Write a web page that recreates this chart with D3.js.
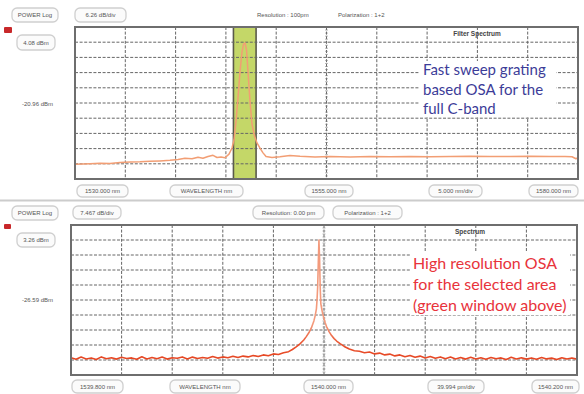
<!DOCTYPE html>
<html><head><meta charset="utf-8">
<script src="https://cdn.jsdelivr.net/npm/d3@7"></script>
<style>body{margin:0;background:#fff}svg{display:block}</style>
</head><body>
<svg id="c" width="584" height="394"></svg>
<script>
// ---------- DATA ----------
// Top panel: fast sweep grating OSA, full C-band  [wavelength nm, power dBm]
const topTrace = [
 [1530.00,-46.2],[1531.49,-46.0],[1532.49,-45.8],[1533.48,-45.9],[1534.47,-45.5],[1535.47,-45.25],
 [1536.46,-45.2],[1537.46,-45.0],[1538.45,-44.8],[1539.44,-44.55],[1540.24,-44.2],[1540.93,-43.7],
 [1541.63,-43.9],[1542.23,-43.3],[1542.72,-43.7],[1543.22,-43.0],[1543.72,-42.5],[1544.12,-43.4],
 [1544.51,-43.2],[1544.91,-43.5],[1545.31,-42.0],[1545.61,-39.5],[1545.80,-36.2],[1546.00,-28.8],
 [1546.20,-18.9],[1546.40,-8.2],[1546.60,0.0],[1546.75,3.3],[1546.90,3.75],[1547.05,0.9],
 [1547.20,-8.2],[1547.40,-20.5],[1547.59,-29.6],[1547.84,-34.5],[1548.09,-37.4],[1548.39,-39.5],
 [1548.69,-41.5],[1548.99,-43.0],[1549.58,-43.4],[1550.38,-43.1],[1551.37,-42.6],[1552.37,-42.9],
 [1553.86,-43.2],[1555.35,-43.0],[1557.34,-43.15],[1559.33,-43.0],[1561.31,-43.1],[1563.30,-42.95],
 [1565.29,-43.1],[1567.28,-43.0],[1569.26,-42.9],[1571.25,-43.0],[1573.24,-42.95],[1575.23,-42.85],
 [1577.22,-43.0],[1578.71,-42.95],[1579.40,-43.1],[1579.80,-43.9],[1580.00,-43.5]
];
const topWindow = [1545.75, 1548.0];          // selected (green) window, nm
const topXDomain = [1530, 1580];
const topRefLevel = 4.08, topDbPerDiv = 6.26;  // dBm, dB/div

// Bottom panel: high resolution OSA  [wavelength nm, power dBm]
const bottomTrace = [
 [1539.800,-55.3],[1539.804,-56.1],[1539.808,-55.0],[1539.812,-55.9],[1539.816,-55.4],[1539.820,-56.2],
 [1539.824,-54.9],[1539.828,-55.8],[1539.832,-55.3],[1539.836,-56.0],[1539.840,-55.1],[1539.844,-55.7],
 [1539.848,-55.4],[1539.852,-56.1],[1539.856,-54.8],[1539.860,-55.9],[1539.864,-55.2],[1539.868,-55.8],
 [1539.872,-55.0],[1539.876,-56.0],[1539.880,-55.3],[1539.884,-55.6],[1539.888,-54.9],[1539.892,-55.9],
 [1539.896,-55.0],[1539.900,-55.7],[1539.904,-55.2],[1539.908,-55.6],[1539.912,-54.7],[1539.916,-55.5],
 [1539.920,-54.9],[1539.924,-55.3],[1539.928,-54.6],[1539.932,-55.2],[1539.936,-54.5],[1539.940,-54.9],
 [1539.944,-54.2],[1539.948,-54.7],[1539.952,-53.9],[1539.956,-54.3],[1539.960,-53.4],[1539.964,-53.7],
 [1539.968,-52.8],[1539.972,-52.3],[1539.975,-51.2],[1539.978,-49.9],[1539.981,-48.4],[1539.984,-46.5],
 [1539.986,-44.8],[1539.988,-42.9],[1539.990,-40.5],[1539.992,-37.0],[1539.993,-34.5],[1539.994,-31.0],
 [1539.9945,-26.5],[1539.995,-20.0],[1539.9955,-8.0],[1539.996,3.2],[1539.9965,-6.0],[1539.997,-20.5],
 [1539.9975,-28.5],[1539.998,-30.2],[1539.9985,-32.0],[1539.999,-33.5],[1540.000,-35.8],[1540.001,-38.0],
 [1540.002,-39.8],[1540.004,-42.3],[1540.006,-44.3],[1540.008,-45.8],[1540.010,-47.0],[1540.013,-48.4],
 [1540.016,-49.7],[1540.020,-51.0],[1540.024,-51.8],[1540.028,-52.1],[1540.032,-52.8],[1540.036,-52.5],
 [1540.040,-53.4],[1540.044,-53.0],[1540.048,-53.9],[1540.052,-53.5],[1540.056,-54.4],[1540.060,-53.9],
 [1540.064,-54.8],[1540.068,-54.2],[1540.072,-55.1],[1540.076,-54.5],[1540.080,-55.4],[1540.084,-54.7],
 [1540.088,-55.6],[1540.092,-54.9],[1540.096,-55.8],[1540.100,-55.0],[1540.104,-55.9],[1540.108,-55.2],
 [1540.112,-56.0],[1540.116,-55.1],[1540.120,-55.9],[1540.124,-55.3],[1540.128,-56.1],[1540.132,-55.2],
 [1540.136,-55.8],[1540.140,-55.4],[1540.144,-56.2],[1540.148,-55.1],[1540.152,-55.9],[1540.156,-55.3],
 [1540.160,-56.0],[1540.164,-55.4],[1540.168,-56.1],[1540.172,-55.2],[1540.176,-55.9],[1540.180,-55.5],
 [1540.184,-56.2],[1540.188,-55.3],[1540.192,-55.9],[1540.196,-55.4],[1540.200,-56.0]
];
const bottomXDomain = [1539.8, 1540.2];
const bottomRefLevel = 3.26, bottomDbPerDiv = 7.4625;

// Labels
const topHeader = ["POWER Log", "6.26 dB/div", "Resolution : 100pm", "Polarization : 1+2"];
const topRefLabels = ["4.08 dBm", "-20.96 dBm"];
const topXLabels = ["1530.000 nm", "WAVELENGTH nm", "1555.000 nm", "5.000 nm/div", "1580.000 nm"];
const topTitle = "Filter Spectrum";
const bottomHeader = ["POWER Log", "7.467 dB/div", "Resolution: 0.00 pm", "Polarization : 1+2"];
const bottomRefLabels = ["3.26 dBm", "-26.59 dBm"];
const bottomXLabels = ["1539.800 nm", "WAVELENGTH nm", "1540.000 nm", "39.994 pm/div", "1540.200 nm"];
const bottomTitle = "Spectrum";
const topNote = ["Fast sweep grating", "based OSA for the", "full C-band"];
const bottomNote = ["High resolution OSA", "for the selected area", "(green window above)"];

// ---------- DRAW ----------
const svg = d3.select("#c");
const FONT = "Liberation Sans, Arial, sans-serif";
const NOTEFONT = "Lato, 'Open Sans', sans-serif";

function pill(x, y, w, h, text) {
  const g = svg.append("g");
  g.append("rect").attr("x", x).attr("y", y).attr("width", w).attr("height", h)
    .attr("rx", 5).attr("fill", "#fbfbfb").attr("stroke", "#cfcfcf").attr("stroke-width", 1.3);
  g.append("text").attr("x", x + w / 2).attr("y", y + h / 2 + 2).attr("text-anchor", "middle")
    .attr("font-family", FONT).attr("font-size", 6).attr("fill", "#555").text(text);
}
function label(x, y, text, anchor) {
  svg.append("text").attr("x", x).attr("y", y).attr("text-anchor", anchor || "start")
    .attr("font-family", FONT).attr("font-size", 6).attr("fill", "#555").text(text);
}

function panel(cfg) {
  const { L, R, T, B, xDomain, ref, div, trace } = cfg;
  const x = d3.scaleLinear().domain(xDomain).range([L, R]);
  const y = d3.scaleLinear().domain([ref - 9 * div, ref + div]).range([B, T]);
  const g = svg.append("g");
  g.append("rect").attr("x", L).attr("y", T).attr("width", R - L).attr("height", B - T).attr("fill", "#fff");

  if (cfg.window) {
    g.append("rect").attr("x", x(cfg.window[0])).attr("y", T)
      .attr("width", x(cfg.window[1]) - x(cfg.window[0])).attr("height", B - T)
      .attr("fill", "#c4d768").attr("stroke", "#5a5a4a").attr("stroke-width", 1.6);
  }
  const step = (xDomain[1] - xDomain[0]) / 10;
  const grid = g.append("g").attr("stroke", "#666").attr("stroke-width", 1).attr("stroke-dasharray", "3,1.6");
  d3.range(1, 10).forEach(i => {
    const xv = x(xDomain[0] + step * i);
    grid.append("line").attr("x1", xv).attr("x2", xv).attr("y1", T).attr("y2", B);
    const yv = y(ref + div - div * i);
    grid.append("line").attr("x1", L).attr("x2", R).attr("y1", yv).attr("y2", yv);
  });
  const cx = x(xDomain[0] + step * 5);
  d3.range(1, 50).forEach(k => {
    const yy = T + (B - T) * k / 50;
    g.append("line").attr("x1", cx - 1.5).attr("x2", cx + 1.5).attr("y1", yy).attr("y2", yy)
      .attr("stroke", "#888").attr("stroke-width", 0.6);
  });

  g.append("text").attr("x", cfg.titleX).attr("y", T + 9).attr("text-anchor", "middle")
    .attr("font-family", FONT).attr("font-size", 6.5).attr("font-weight", "bold").attr("fill", "#444").text(cfg.title);

  svg.append("rect").attr("x", cfg.note.x).attr("y", cfg.note.y).attr("width", cfg.note.w).attr("height", cfg.note.h).attr("fill", "#fff");
  cfg.note.lines.forEach((t, i) => {
    svg.append("text").attr("x", cfg.note.tx).attr("y", cfg.note.ty + i * cfg.note.lh)
      .attr("font-family", NOTEFONT).attr("font-size", cfg.note.fs).attr("fill", cfg.note.color).text(t);
  });

  const clipId = "clip" + T;
  svg.append("clipPath").attr("id", clipId).append("rect").attr("x", L).attr("y", T).attr("width", R - L).attr("height", B - T);
  const line = d3.line().x(d => x(d[0])).y(d => y(d[1]));
  svg.append("path").datum(trace).attr("d", line).attr("fill", "none")
    .attr("clip-path", `url(#${clipId})`)
    .attr("stroke", cfg.stroke).attr("stroke-width", cfg.strokeWidth).attr("stroke-linejoin", "round");

  svg.append("rect").attr("x", L).attr("y", T).attr("width", R - L).attr("height", B - T)
    .attr("fill", "none").attr("stroke", "#6e6e6e").attr("stroke-width", 2);
  return { x, y };
}

const defs = svg.append("defs");
const grad = defs.append("linearGradient").attr("id", "bg").attr("gradientUnits", "userSpaceOnUse")
  .attr("x1", 0).attr("x2", 0).attr("y1", 225).attr("y2", 375);
grad.append("stop").attr("offset", 0).attr("stop-color", "#f39a7c");
grad.append("stop").attr("offset", 0.66).attr("stop-color", "#f39a7c");
grad.append("stop").attr("offset", 0.8).attr("stop-color", "#e9502c");
grad.append("stop").attr("offset", 1).attr("stop-color", "#e23c1a");

svg.append("line").attr("x1", 0).attr("x2", 584).attr("y1", 200.5).attr("y2", 200.5)
  .attr("stroke", "#cccccc").attr("stroke-width", 2);

// ---- top panel ----
pill(12, 8, 46, 14, topHeader[0]);
pill(75, 8, 51, 14, topHeader[1]);
label(257, 17, topHeader[2]);
label(338, 17, topHeader[3]);
svg.append("rect").attr("x", 4).attr("y", 27).attr("width", 8).attr("height", 6).attr("rx", 1).attr("fill", "#c8282a");
pill(17, 35, 38, 15, topRefLabels[0]);
label(22, 106, topRefLabels[1]);
panel({ L: 75, R: 578, T: 27, B: 179, xDomain: topXDomain, ref: topRefLevel, div: topDbPerDiv,
  trace: topTrace, window: topWindow, title: topTitle, titleX: 477,
  stroke: "#f29e74", strokeWidth: 1.5,
  note: { x: 419, y: 61, w: 137, h: 56, tx: 423, ty: 75, lh: 19.5, fs: 15, color: "#3c3c98", lines: topNote } });
[[77, 51], [170, 73], [305, 48], [429, 53], [529, 49]].forEach((p, i) => pill(p[0], 185, p[1], 12, topXLabels[i]));

// ---- bottom panel ----
pill(12, 206, 46, 14, bottomHeader[0]);
pill(73, 206, 48, 13, bottomHeader[1]);
pill(253, 206, 71, 13, bottomHeader[2]);
pill(333, 206, 69, 13, bottomHeader[3]);
svg.append("rect").attr("x", 4).attr("y", 224).attr("width", 7).attr("height", 5).attr("rx", 1).attr("fill", "#c8282a");
pill(17, 233, 38, 14, bottomRefLabels[0]);
label(22, 302, bottomRefLabels[1]);
panel({ L: 71, R: 577, T: 225, B: 375, xDomain: bottomXDomain, ref: bottomRefLevel, div: bottomDbPerDiv,
  trace: bottomTrace, title: bottomTitle, titleX: 470,
  stroke: "url(#bg)", strokeWidth: 1.6,
  note: { x: 410, y: 251, w: 160, h: 64, tx: 413, ty: 269, lh: 21, fs: 16, color: "#e8333b", lines: bottomNote } });
[[72, 51], [170, 70], [304, 49], [428, 56], [532, 47]].forEach((p, i) => pill(p[0], 380, p[1], 13, bottomXLabels[i]));
</script>
</body></html>
